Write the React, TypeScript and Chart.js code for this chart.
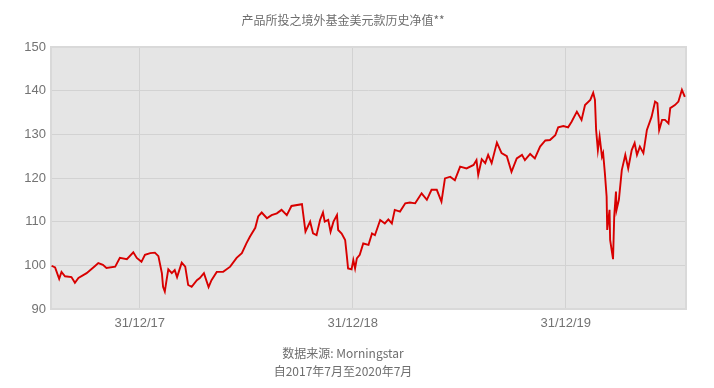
import React, { useEffect, useRef } from "react";
import { Chart, registerables } from "chart.js";

Chart.register(...registerables);

// Data: days since startDate, and fund NAV values (USD class)
const startDate = "2017-08-01";
const endDate = "2020-07-24";

const dayOffsets = [
  1, 7, 14, 18, 24, 35, 41, 47, 61, 75, 81, 89, 95, 110, 118, 130, 141, 147, 155, 161,
  170, 178, 184, 190, 192, 195, 198, 201, 207, 212, 216, 224, 230, 235, 241, 250, 255, 262, 270, 275,
  284, 295, 307, 318, 327, 335, 341, 350, 355, 361, 370, 378, 387, 395, 404, 412, 430, 432, 436, 444,
  449, 455, 461, 466, 469, 475, 479, 484, 490, 492, 498, 504, 507, 509, 515, 518, 521, 524, 529, 535,
  544, 550, 555, 564, 572, 578, 584, 589, 598, 607, 615, 624, 635, 644, 652, 661, 669, 675, 684, 692,
  701, 712, 724, 729, 732, 738, 744, 749, 755, 764, 772, 781, 789, 798, 807, 812, 821, 829, 838, 847,
  855, 864, 869, 878, 886, 892, 901, 909, 915, 924, 929, 932, 934, 937, 940, 944, 946, 949, 952, 953,
  957, 958, 963, 965, 968, 969, 973, 978, 984, 989, 995, 1000, 1004, 1009, 1015, 1021, 1029, 1035, 1039, 1042,
  1047, 1052, 1058, 1061, 1069, 1075, 1081, 1086,
];

const navValues = [
  99.9, 99.5, 96.9, 98.5, 97.5, 97.3, 96.0, 97.1, 98.2, 99.8, 100.5, 100.1, 99.4, 99.7, 101.7, 101.4, 103.0, 101.7, 100.8, 102.4,
  102.8, 102.9, 102.1, 98.2, 95.1, 94.0, 96.6, 99.1, 98.2, 98.9, 97.3, 100.6, 99.7, 95.5, 95.1, 96.6, 97.1, 98.2, 95.0, 96.6,
  98.5, 98.5, 99.7, 101.7, 102.8, 105.1, 106.6, 108.6, 111.2, 112.1, 110.8, 111.5, 111.9, 112.7, 111.5, 113.6, 114.0, 111.9, 107.7, 110.0,
  107.3, 106.9, 110.4, 112.1, 110.0, 110.4, 107.7, 110.0, 111.5, 108.1, 107.3, 105.8, 102.0, 99.3, 99.1, 101.2, 99.3, 101.6, 102.4, 105.0,
  104.7, 107.3, 106.9, 110.4, 109.6, 110.5, 109.6, 112.7, 112.3, 114.2, 114.4, 114.2, 116.5, 115.0, 117.3, 117.3, 114.6, 119.9, 120.3, 119.5,
  122.6, 122.2, 123.0, 124.1, 120.7, 124.3, 123.4, 125.3, 123.4, 128.1, 125.7, 125.0, 121.4, 124.5, 125.3, 124.1, 125.5, 124.5, 127.2, 128.6,
  128.7, 129.8, 131.6, 131.9, 131.6, 132.9, 135.2, 133.3, 136.7, 137.9, 139.5, 137.9, 131.0, 126.4, 129.5, 124.9, 125.7, 121.1, 115.7, 108.1,
  112.7, 105.8, 101.4, 111.2, 116.9, 112.7, 115.0, 121.8, 125.3, 122.2, 126.4, 128.0, 125.3, 127.2, 125.7, 131.0, 134.0, 137.5, 137.1, 131.0,
  133.3, 133.3, 132.5, 136.0, 136.7, 137.5, 140.2, 138.6,
];

const tickDates = ["2017-12-31", "2018-12-31", "2019-12-31"];
const tickLabels = ["31/12/17", "31/12/18", "31/12/19"];

const yMin = 90;
const yMax = 150;
const yStep = 10;

const titleText = "产品所投之境外基金美元款历史净值**";
const footerLines = ["数据来源: Morningstar", "自2017年7月至2020年7月"];

const DAY = 86400000;
const dayOf = (s: string) => Math.round((Date.parse(s) - Date.parse(startDate)) / DAY);

const plotBgPlugin = {
  id: "plotBg",
  beforeDraw(chart: any) {
    const { ctx, chartArea } = chart;
    const { left, top, right, bottom } = chartArea;
    ctx.save();
    ctx.fillStyle = "#e5e5e5";
    ctx.fillRect(left, top, right - left, bottom - top);
    ctx.restore();
  },
  beforeDatasetsDraw(chart: any) {
    const { ctx, chartArea } = chart;
    const { left, top, right, bottom } = chartArea;
    ctx.save();
    ctx.strokeStyle = "#d9d9d9";
    ctx.lineWidth = 2;
    ctx.strokeRect(left, top, right - left, bottom - top);
    ctx.restore();
  },
};

export default function App() {
  const ref = useRef<HTMLCanvasElement | null>(null);

  useEffect(() => {
    if (!ref.current) return;
    const points = dayOffsets.map((d, i) => ({ x: d, y: navValues[i] }));
    const tickDays = tickDates.map(dayOf);
    const chart = new Chart(ref.current, {
      type: "line",
      data: {
        datasets: [
          {
            data: points,
            borderColor: "#d80000",
            borderWidth: 1.9,
            pointRadius: 0,
            tension: 0,
            fill: false,
          },
        ],
      },
      options: {
        animation: false,
        responsive: false,
        maintainAspectRatio: false,
        layout: { padding: { left: 0, right: 28, top: 0, bottom: 0 } },
        plugins: {
          legend: { display: false },
          tooltip: { enabled: false },
          title: {
            display: true,
            text: titleText,
            color: "#6e6e6e",
            font: { family: "'Noto Sans CJK SC', 'Noto Sans', sans-serif", size: 12, weight: "normal", lineHeight: 1.2 },
            padding: { top: 13, bottom: 19.6 },
          },
          subtitle: {
            display: true,
            position: "bottom",
            text: footerLines,
            color: "#6e6e6e",
            font: { family: "'Noto Sans CJK SC', 'Noto Sans', sans-serif", size: 12, weight: "normal", lineHeight: 1.5 },
            padding: { top: 10, bottom: 8 },
          },
        },
        scales: {
          x: {
            type: "linear",
            min: 0,
            max: dayOf(endDate),
            afterBuildTicks: (scale: any) => {
              scale.ticks = tickDays.map((v) => ({ value: v }));
            },
            afterFit: (scale: any) => {
              scale.height = 25;
            },
            ticks: {
              autoSkip: false,
              maxRotation: 0,
              padding: 7,
              color: "#737373",
              font: { family: "'Liberation Sans', Arial, sans-serif", size: 13 },
              callback: (v: any) => {
                const idx = tickDays.indexOf(Number(v));
                return idx >= 0 ? tickLabels[idx] : "";
              },
            },
            grid: { color: "#d2d2d2", lineWidth: 1, drawTicks: false },
            border: { display: false },
          },
          y: {
            min: yMin,
            max: yMax,
            afterFit: (scale: any) => {
              scale.width = 51;
            },
            ticks: {
              stepSize: yStep,
              padding: 5,
              color: "#737373",
              font: { family: "'Liberation Sans', Arial, sans-serif", size: 13 },
            },
            grid: { color: "#d2d2d2", lineWidth: 1, drawTicks: false },
            border: { display: false },
          },
        },
      },
      plugins: [plotBgPlugin],
    } as any);
    return () => chart.destroy();
  }, []);

  return (
    <div style={{ position: "fixed", left: 0, top: 0, width: 714, height: 388, background: "#ffffff" }}>
      <canvas ref={ref} width={714} height={388} style={{ display: "block" }} />
    </div>
  );
}
